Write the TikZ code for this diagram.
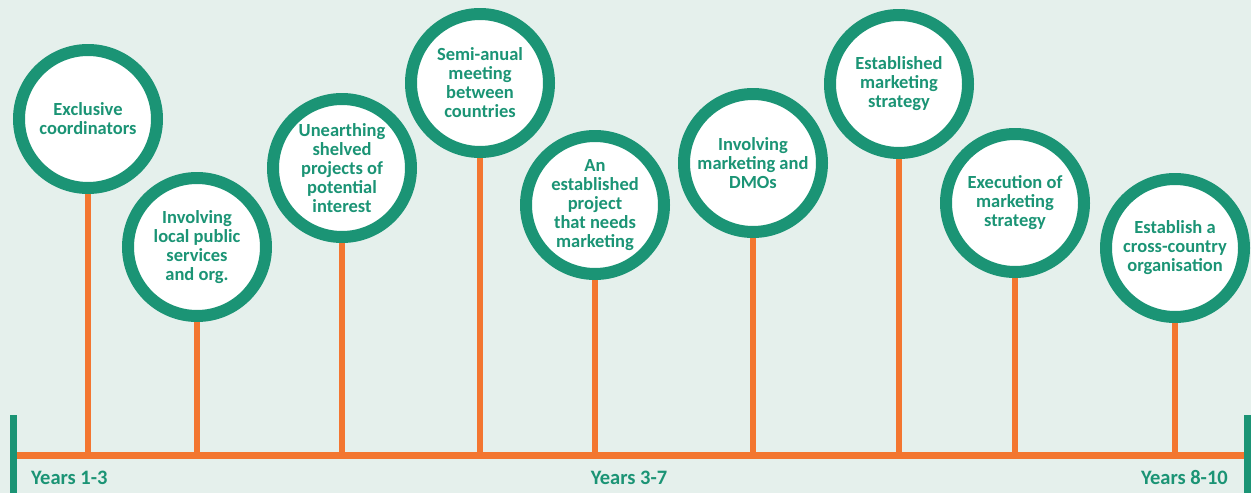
\documentclass[tikz,border=0pt]{standalone}
\usepackage{fontspec}
\setmainfont{Carlito}
\definecolor{bgmint}{RGB}{229,240,236}
\definecolor{teal}{RGB}{27,148,117}
\definecolor{carrot}{RGB}{243,118,48}

\begin{document}
\begin{tikzpicture}[x=1pt, y=-1pt,
    milestone/.style={circle, draw=teal, line width=12pt, fill=white,
      minimum size=138pt, inner sep=0pt, align=center, text=teal,
      font=\fontsize{18.5}{19}\selectfont\bfseries},
    stem/.style={carrot, line width=6pt},
    period/.style={text=teal, font=\fontsize{20.5}{21}\selectfont\bfseries, inner sep=0pt}]
  % background
  \fill[bgmint] (0,0) rectangle (1251,493);
  \useasboundingbox (0,0) rectangle (1251,493);

  % time line
  \coordinate (tl) at (17,455.5);
  \coordinate (tr) at (1244,455.5);
  \draw[carrot, line width=7pt] (tl) -- (tr);
  \draw[teal, line width=7pt] (13.5,415) -- (13.5,493);
  \draw[teal, line width=7pt] (1247.5,415) -- (1247.5,493);

  % milestones
  \foreach \n/\x/\y/\t in {
      1/88/119/{Exclusive\\coordinators},
      2/197/247/{Involving\\local public\\services\\and org.},
      3/342/168/{Unearthing\\shelved\\projects of\\potential\\interest},
      4/480/83/{Semi-anual\\meeting\\between\\countries},
      5/595/205/{An\\established\\project\\that needs\\marketing},
      6/753/163/{Involving\\marketing and\\DMOs},
      7/899/84/{Established\\marketing\\strategy},
      8/1015/203/{Execution of\\marketing\\strategy},
      9/1175/248/{Establish a\\cross-country\\organisation}}{
    \node[milestone] (m\n) at (\x,\y) {\t};
    \draw[stem] (m\n.south) -- (m\n.south |- tl);
  }

  % periods
  \node[period, anchor=base west] (p1) at (31,484) {Years 1-3};
  \node[period, anchor=base] (p2) at (629,484) {Years 3-7};
  \node[period, anchor=base east] (p3) at (1228,484) {Years 8-10};
\end{tikzpicture}
\end{document}
